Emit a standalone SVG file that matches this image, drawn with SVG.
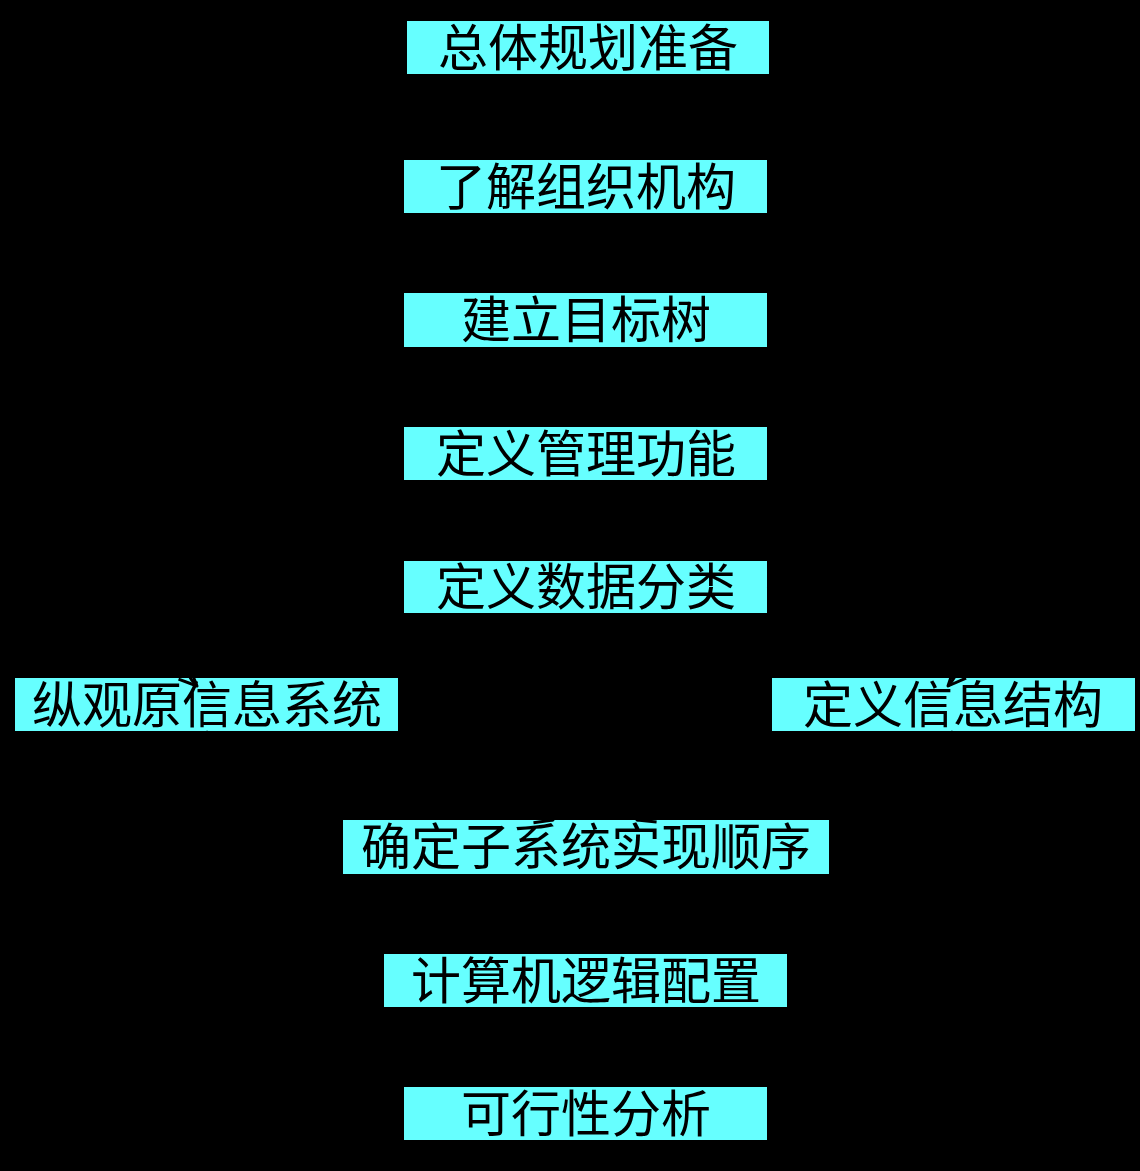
<svg xmlns="http://www.w3.org/2000/svg" width="1140" height="1171" viewBox="0 0 1140 1171">
<style>
.box{fill:#66FFFF;stroke:none}
.lbl{font-family:"Noto Sans CJK SC","Noto Sans CJK TC",sans-serif;font-size:50px;fill:#000;text-anchor:middle}
.con{fill:none;stroke:#000;stroke-width:3}
</style>
<defs>
<marker id="arr" markerUnits="userSpaceOnUse" markerWidth="30" markerHeight="30" refX="20" refY="10" orient="auto" viewBox="0 0 30 20">
<polyline points="2,2 20,10 2,18" fill="none" stroke="#000" stroke-width="3" stroke-linejoin="round"/>
</marker>
</defs>
<rect x="0" y="0" width="1140" height="1171" fill="#000"/>
<g id="n1"><rect class="box" x="407" y="21" width="362" height="53"/><text class="lbl" x="588" y="66">总体规划准备</text></g>
<g id="n2"><rect class="box" x="404" y="160" width="363" height="53"/><text class="lbl" x="586" y="205">了解组织机构</text></g>
<g id="n3"><rect class="box" x="404" y="293" width="363" height="54"/><text class="lbl" x="586" y="338">建立目标树</text></g>
<g id="n4"><rect class="box" x="404" y="427" width="363" height="53"/><text class="lbl" x="586" y="472">定义管理功能</text></g>
<g id="n5"><rect class="box" x="404" y="561" width="363" height="52"/><text class="lbl" x="586" y="605">定义数据分类</text></g>
<g id="n6"><rect class="box" x="15" y="678" width="383" height="53"/><text class="lbl" x="207" y="723">纵观原信息系统</text></g>
<g id="n7"><rect class="box" x="772" y="678" width="363" height="53"/><text class="lbl" x="953" y="723">定义信息结构</text></g>
<g id="n8"><rect class="box" x="343" y="820" width="486" height="54"/><text class="lbl" x="586" y="865">确定子系统实现顺序</text></g>
<g id="n9"><rect class="box" x="384" y="954" width="403" height="53"/><text class="lbl" x="586" y="999">计算机逻辑配置</text></g>
<g id="n10"><rect class="box" x="404" y="1087" width="363" height="53"/><text class="lbl" x="586" y="1132">可行性分析</text></g>
<g id="connectors">
<path class="con" marker-end="url(#arr)" d="M588,78 L588,155"/>
<path class="con" marker-end="url(#arr)" d="M586,217 L586,288"/>
<path class="con" marker-end="url(#arr)" d="M586,351 L586,422"/>
<path class="con" marker-end="url(#arr)" d="M586,484 L586,556"/>
<path class="con" marker-end="url(#arr)" d="M404,587 C250,590 150,640 197,686"/>
<path class="con" marker-end="url(#arr)" d="M767,587 C900,590 990,640 948,686"/>
<path class="con" marker-end="url(#arr)" d="M206,731 C230,800 450,790 553,820"/>
<path class="con" marker-end="url(#arr)" d="M953,731 C930,800 730,790 637,820"/>
<path class="con" marker-end="url(#arr)" d="M586,878 L586,949"/>
<path class="con" marker-end="url(#arr)" d="M586,1011 L586,1082"/>
</g>
</svg>
